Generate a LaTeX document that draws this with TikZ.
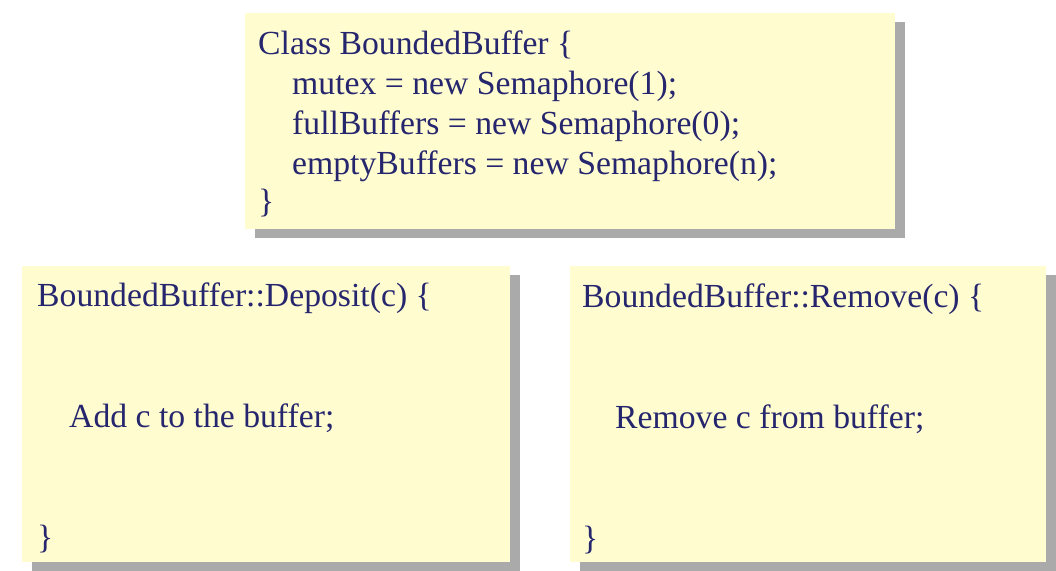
\documentclass[tikz,border=0pt]{standalone}
\usepackage{fontspec}
\setmainfont{Liberation Serif}
\usetikzlibrary{shadows}
\definecolor{boxfill}{RGB}{255,253,208}
\definecolor{shadowgray}{RGB}{170,170,170}
\definecolor{codeblue}{RGB}{38,38,110}
\tikzset{
  codebox/.style={rectangle, draw=none, fill=boxfill, anchor=north west, inner sep=0pt,
    drop shadow={shadow xshift=10pt, shadow yshift=-9pt, fill=shadowgray, opacity=1}},
  codeline/.style={anchor=base west, inner sep=0pt, text=codeblue,
    font=\fontsize{33.7}{40}\selectfont}
}
\begin{document}
\begin{tikzpicture}[x=1pt, y=-1pt]
\useasboundingbox (0,0) rectangle (1056,570);
% boxes
\node[codebox, minimum width=650pt, minimum height=216pt] (top) at (245,13) {};
\node[codebox, minimum width=488pt, minimum height=296pt] (dep) at (22,266) {};
\node[codebox, minimum width=476pt, minimum height=296pt] (rem) at (570,266) {};
% top box text
\node[codeline] (t1) at (258,54) {Class BoundedBuffer \{};
\node[codeline] (t2) at (292,94) {mutex = new Semaphore(1);};
\node[codeline] (t3) at (292,134) {fullBuffers = new Semaphore(0);};
\node[codeline] (t4) at (292,174) {emptyBuffers = new Semaphore(n);};
\node[codeline] (t5) at (258,212) {\}};
% deposit
\node[codeline] (d1) at (37,306) {BoundedBuffer::Deposit(c) \{};
\node[codeline] (d2) at (69,427) {Add c to the buffer;};
\node[codeline] (d3) at (37,548) {\}};
% remove
\node[codeline] (r1) at (582,307) {BoundedBuffer::Remove(c) \{};
\node[codeline] (r2) at (615,428) {Remove c from buffer;};
\node[codeline] (r3) at (582,549) {\}};
\end{tikzpicture}
\end{document}
